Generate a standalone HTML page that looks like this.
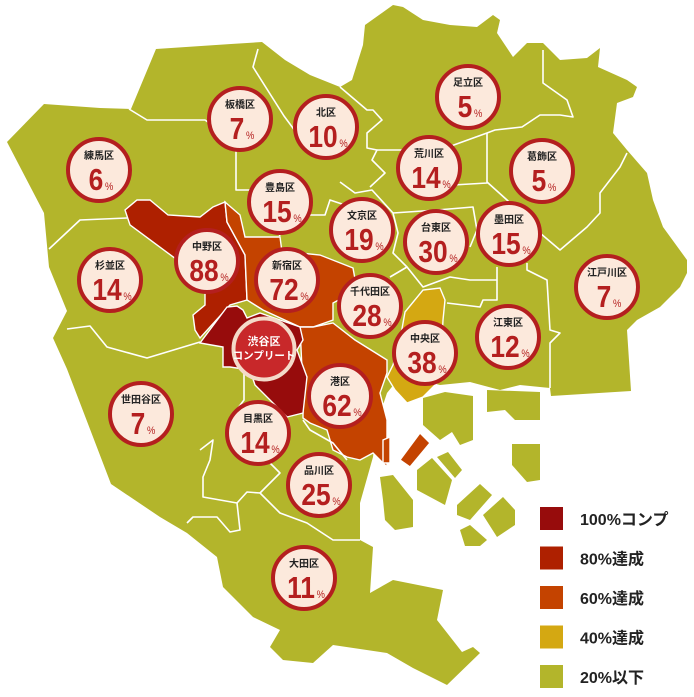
<!DOCTYPE html>
<html><head><meta charset="utf-8"><style>
html,body{margin:0;padding:0;background:#fff;}
svg{display:block;font-family:"Liberation Sans","Noto Sans CJK JP",sans-serif;}
</style></head><body>
<svg id="map" width="694" height="697" viewBox="0 0 694 697" xmlns="http://www.w3.org/2000/svg">
<g id="land">
<polygon fill="#b3b52b" points="7,142 44,104 100,108 131,109 156,49 231,44 262,42 285,60 310,75 340,87 352,80 363,45 365,25 393,5 403,7 423,20 450,25 477,27 493,15 500,20 497,33 513,57 527,43 543,43 560,60 587,58 600,48 598,67 627,80 637,87 633,97 617,103 613,133 627,150 647,173 653,200 663,227 687,260 687,273 680,287 660,307 637,320 627,330 631,391 551,396 550,388 520,385 500,390 470,382 440,385 420,380 395,383 387,393 377,423 373,457 360,503 360,540 373,547 370,593 393,580 443,590 437,620 462,652 473,647 480,653 447,685 413,668 387,653 333,645 313,663 283,660 270,647 280,630 253,617 223,587 217,557 187,533 160,517 111,484 67,369 53,338 67,311 49,267 44,213"/>
<polygon fill="#b3b52b" points="423,398 445,392 473,396 473,440 460,445 452,432 440,440 423,425"/>
<polygon fill="#b3b52b" points="487,390 540,392 540,420 515,420 505,410 487,412"/>
<polygon fill="#b3b52b" points="512,444 540,444 540,480 527,482 512,465"/>
<polygon fill="#b3b52b" points="417,470 432,458 452,480 445,505 417,490"/>
<polygon fill="#b3b52b" points="437,457 448,452 462,470 455,478"/>
<polygon fill="#b3b52b" points="457,505 480,484 492,495 470,520 457,515"/>
<polygon fill="#b3b52b" points="483,515 503,497 515,510 515,525 497,537"/>
<polygon fill="#b3b52b" points="460,530 470,525 487,540 480,546 465,546"/>
<polygon fill="#b3b52b" points="380,477 393,475 413,500 413,527 395,530 385,520 383,500"/>
</g>
<g id="regions"></g>
<g id="borders" fill="none" stroke="#fff" stroke-width="1.6" stroke-linejoin="round">
<polyline points="129,109 147,120 205,120 236,142 236,190 250,190"/>
<polyline points="49,249 80,220 127,218"/>
<polyline points="67,329 90,326 107,347 147,358 200,342"/>
<polyline points="244,364 244,400 235,412"/>
<polyline points="200,450 213,440 210,460 203,477 203,497 237,503 240,530 230,532 217,517 193,517 187,523"/>
<polyline points="237,503 247,492 260,493 280,513 307,523 333,540 360,540"/>
<polyline points="260,493 280,473 270,463"/>
<polyline points="303,420 310,430 333,443 347,460"/>
<polyline points="340,87 367,110 373,110 382,120 367,133 367,148 377,150 372,160 385,173 370,187"/>
<polyline points="377,150 440,150 487,133 495,130 522,127 540,115 560,115 573,117 567,100 543,83 543,50"/>
<polyline points="487,133 487,183 453,185"/>
<polyline points="627,153 620,167 600,193 600,213 587,227 560,250 540,233 507,200 487,182"/>
<polyline points="527,263 527,270 547,280 550,330 560,333 550,343 550,388"/>
<polyline points="497,267 497,300 483,300 480,307 447,303"/>
<polyline points="393,213 437,210 473,207 477,230 470,247"/>
<polyline points="393,213 398,233 393,253 407,267 390,277"/>
<polyline points="407,267 423,287 450,277 470,280 497,280"/>
<polyline points="340,182 355,193 372,190 393,213"/>
<polyline points="300,190 302,215 325,215 330,200 345,205"/>
<polyline points="258,49 253,67 284,116 307,147"/>
<polyline points="253,190 262,200 280,236"/>
</g>
<g id="legend"></g>
<g id="labels"></g>
</svg>
<script>
const wards = ["練馬区","板橋区","北区","足立区","荒川区","葛飾区","豊島区","文京区","台東区","墨田区","中野区","杉並区","新宿区","千代田区","江戸川区","渋谷区","中央区","江東区","港区","世田谷区","目黒区","品川区","大田区"];
const pct = [6,7,10,5,14,5,15,19,30,15,88,14,72,28,7,100,38,12,62,7,14,25,11];
const labelPos = [[99,170],[240,119],[326,127],[468,97],[429,168],[542,171],[280,202],[362,230],[436,242],[509,234],[207,261],[110,280],[287,280],[370,306],[607,287],[264,349],[425,353],[508,337],[340,396],[141,414],[258,433],[319,485],[304,578]];
const legendLabels = ["100%コンプ","80%達成","60%達成","40%達成","20%以下"];
const legendColors = ["#970c0c","#ae2000","#c44300","#d4a812","#b3b52b"];
const regionShapes = {
 "中野区":"125,210 137,200 150,200 168,215 200,217 213,207 225,202 227,222 245,255 247,300 230,305 200,338 195,330 193,315 205,305 205,290 213,278 205,265 180,262 130,225",
 "新宿区":"225,202 227,222 245,255 247,300 263,310 300,327 313,327 333,320 333,303 357,290 353,268 320,255 300,253 282,252 280,237 245,237 240,215",
 "港区":"300,327 313,327 333,323 355,340 387,360 387,373 380,393 387,420 387,467 373,453 360,460 347,457 333,450 327,430 310,423 303,418 303,390",
 "渋谷区":"200,343 227,307 237,306 243,310 247,318 260,313 300,327 303,340 297,350 307,377 303,413 287,417 255,385 250,370 230,367 223,367 223,347",
 "中央区":"405,312 423,290 440,288 445,300 443,320 440,380 423,397 407,403 395,390 387,377 393,365 400,340"
};
const extraShapes = [["港区","383,440 390,437 390,463 383,463"],["港区","400,460 420,433 430,443 410,467"]];
function colorFor(p){ const r=Math.round(p/10)*10; if(r>=100) return legendColors[0]; if(r>=80) return legendColors[1]; if(r>=60) return legendColors[2]; if(r>=40) return legendColors[3]; return legendColors[4]; }
const NS="http://www.w3.org/2000/svg";
const rg=document.getElementById('regions');
function addRegion(name,pts){
 const p=document.createElementNS(NS,'polygon');
 p.setAttribute('points',pts);
 p.setAttribute('fill',colorFor(pct[wards.indexOf(name)]));
 p.setAttribute('stroke','#fff');p.setAttribute('stroke-width','1.4');
 
 
 rg.appendChild(p);
}
Object.keys(regionShapes).forEach(k=>addRegion(k,regionShapes[k]));
extraShapes.forEach(e=>addRegion(e[0],e[1]));
const lg=document.getElementById('legend');
legendLabels.forEach((t,i)=>{
 const y=507+i*39.5;
 const r=document.createElementNS(NS,'rect');
 r.setAttribute('x',540);r.setAttribute('y',y);r.setAttribute('width',23);r.setAttribute('height',23);r.setAttribute('fill',legendColors[i]);
 
 
 lg.appendChild(r);
 const tx=document.createElementNS(NS,'text');
 tx.setAttribute('x',580);tx.setAttribute('y',y+18);tx.setAttribute('font-size','16');tx.setAttribute('font-weight','bold');tx.setAttribute('fill','#222');
 tx.textContent=t;
 
 
 lg.appendChild(tx);
});
const lb=document.getElementById('labels');
wards.forEach((w,i)=>{
 const [cx,cy]=labelPos[i];
 const g=document.createElementNS(NS,'g');
 
 
 const c=document.createElementNS(NS,'circle');
 c.setAttribute('cx',cx);c.setAttribute('cy',cy);
 const full=pct[i]>=100;
 c.setAttribute('r',full?30.5:31);
 c.setAttribute('fill',full?'#c8282a':'#fce9dc');
 c.setAttribute('stroke',full?'#f4dac9':'#b41f1f');
 c.setAttribute('stroke-width',4);
 g.appendChild(c);
 if(full){
  const t1=document.createElementNS(NS,'text');
  t1.setAttribute('x',cx);t1.setAttribute('y',cy-4);t1.setAttribute('text-anchor','middle');t1.setAttribute('font-size','11');t1.setAttribute('font-weight','bold');t1.setAttribute('fill','#fff');
  t1.textContent=w;g.appendChild(t1);
  const t2=document.createElementNS(NS,'text');
  t2.setAttribute('x',cx);t2.setAttribute('y',cy+10);t2.setAttribute('text-anchor','middle');t2.setAttribute('font-size','10.5');t2.setAttribute('font-weight','bold');t2.setAttribute('fill','#fff');
  t2.textContent='コンプリート';g.appendChild(t2);
 } else {
  const t1=document.createElementNS(NS,'text');
  t1.setAttribute('x',cx);t1.setAttribute('y',cy-11);t1.setAttribute('text-anchor','middle');t1.setAttribute('font-size','10');t1.setAttribute('font-weight','bold');t1.setAttribute('fill','#222');
  t1.textContent=w;
  
  
  g.appendChild(t1);
  const t2=document.createElementNS(NS,'text');
  t2.setAttribute('x',cx+2);t2.setAttribute('y',cy+20);t2.setAttribute('text-anchor','middle');t2.setAttribute('fill','#b41f1f');t2.setAttribute('font-weight','bold');
  t2.setAttribute('transform','translate('+(cx+2)+',0) scale(0.85,1) translate('+(-(cx+2))+',0)');
  const n=document.createElementNS(NS,'tspan');n.setAttribute('font-size','31');n.textContent=pct[i];
  const s=document.createElementNS(NS,'tspan');s.setAttribute('font-size','11');s.setAttribute('font-weight','normal');s.setAttribute('dx','2');s.textContent='%';
  t2.appendChild(n);t2.appendChild(s);
  
  
  g.appendChild(t2);
 }
 lb.appendChild(g);
});
</script>
</body></html>
